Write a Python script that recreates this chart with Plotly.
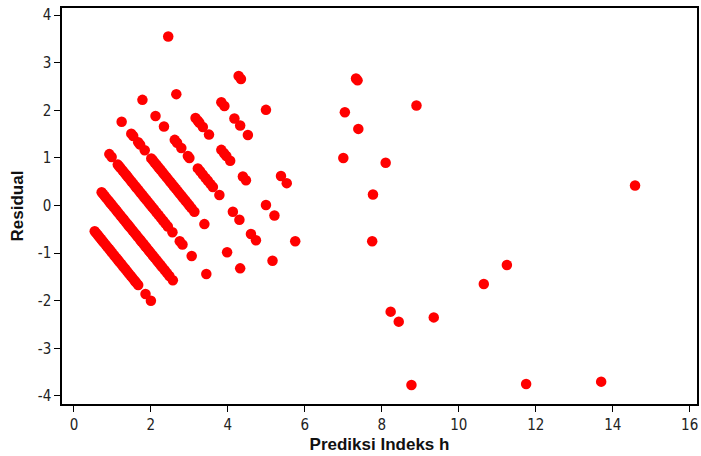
import plotly.graph_objects as go

# Predicted index values grouped by observed index (residual = observed - predicted)
pred_obs0 = [0.54, 0.58, 0.62, 0.66, 0.70, 0.74, 0.78, 0.83, 0.88, 0.92, 0.96, 1.00,
             1.05, 1.10, 1.14, 1.18, 1.23, 1.28, 1.33, 1.38, 1.43, 1.48, 1.53, 1.58,
             1.62, 1.67, 1.86, 2.00]
pred_obs1 = [0.72, 0.76, 0.80, 0.85, 0.90, 0.94, 0.98, 1.03, 1.08, 1.12, 1.16, 1.21,
             1.26, 1.30, 1.35, 1.40, 1.44, 1.48, 1.53, 1.58, 1.62, 1.67, 1.72, 1.76,
             1.81, 1.86, 1.90, 1.95, 2.00, 2.05, 2.10, 2.15, 2.20, 2.25, 2.30, 2.36,
             2.42, 2.48, 2.57]
pred_obs2 = [0.92, 0.98, 1.14, 1.18, 1.22, 1.27, 1.32, 1.36, 1.40, 1.45, 1.50, 1.55,
             1.60, 1.64, 1.68, 1.73, 1.78, 1.83, 1.88, 1.93, 1.98, 2.03, 2.08, 2.14,
             2.20, 2.26, 2.32, 2.38, 2.44, 2.56, 2.75, 2.82, 3.06, 3.44]
pred_obs3 = [1.24, 1.49, 1.54, 1.67, 1.72, 1.84, 2.01, 2.05, 2.10, 2.15, 2.20, 2.25,
             2.30, 2.35, 2.40, 2.45, 2.50, 2.55, 2.60, 2.65, 2.70, 2.75, 2.80, 2.85,
             2.90, 2.95, 3.00, 3.06, 3.13, 3.39, 3.98, 4.32]
pred_obs4 = [1.78, 2.12, 2.34, 2.62, 2.68, 2.79, 2.96, 3.00, 3.22, 3.28, 3.35, 3.42,
             3.48, 3.55, 3.61, 3.78, 4.13, 4.30, 4.60, 4.73, 5.16]
pred_obs5 = [2.66, 3.16, 3.22, 3.26, 3.35, 3.51, 3.83, 3.90, 3.96, 4.06, 4.39, 4.47,
             4.99, 5.21, 5.75, 8.77]
pred_obs6 = [2.45, 3.83, 3.91, 4.17, 4.32, 4.52, 5.38, 5.53, 8.23, 8.44]
pred_obs7 = [4.28, 4.34, 4.99, 7.75, 9.35]
pred_obs8 = [7.00, 7.77, 11.75]
pred_obs9 = [7.04, 7.39, 8.10, 10.65]
pred_obs10 = [7.33, 7.37, 11.25, 13.70]
pred_obs11 = [8.90]
pred_obs15 = [14.58]

groups = [(0, pred_obs0), (1, pred_obs1), (2, pred_obs2), (3, pred_obs3),
          (4, pred_obs4), (5, pred_obs5), (6, pred_obs6), (7, pred_obs7),
          (8, pred_obs8), (9, pred_obs9), (10, pred_obs10), (11, pred_obs11),
          (15, pred_obs15)]

predicted = []
residual = []
for observed, preds in groups:
    for p in preds:
        predicted.append(p)
        residual.append(round(observed - p, 3))

x_ticks = [0, 2, 4, 6, 8, 10, 12, 14, 16]
y_ticks = [-4, -3, -2, -1, 0, 1, 2, 3, 4]

fig = go.Figure()
fig.add_trace(go.Scatter(
    x=predicted, y=residual, mode="markers",
    marker=dict(color="#ff0000", size=10.5, line=dict(width=0)),
    showlegend=False,
))

axis_font = dict(family="DejaVu Sans Condensed, Liberation Sans Narrow, Liberation Sans", size=15, color="#222222")
title_font = dict(family="Liberation Sans, Arial", size=17, color="#111111")

fig.update_layout(
    width=701, height=456,
    margin=dict(l=62, r=2, t=8, b=52),
    paper_bgcolor="white", plot_bgcolor="white",
    xaxis=dict(
        range=[-0.31, 16.19], tickvals=x_ticks, ticktext=[str(v) for v in x_ticks],
        showgrid=False, zeroline=False, showline=True, linecolor="black", linewidth=1.5,
        mirror=True, ticks="outside", ticklen=6, tickcolor="black", tickwidth=1.2,
        tickfont=axis_font,
        title=dict(text="<b>Prediksi Indeks h</b>", font=title_font, standoff=5),
    ),
    yaxis=dict(
        range=[-4.17, 4.15], tickvals=y_ticks, ticktext=[str(v) for v in y_ticks],
        showgrid=False, zeroline=False, showline=True, linecolor="black", linewidth=1.5,
        mirror=True, ticks="outside", ticklen=6, tickcolor="black", tickwidth=1.2,
        tickfont=axis_font,
        title=dict(text="<b>Residual</b>", font=title_font, standoff=10),
    ),
)

fig.write_html("out.html")
